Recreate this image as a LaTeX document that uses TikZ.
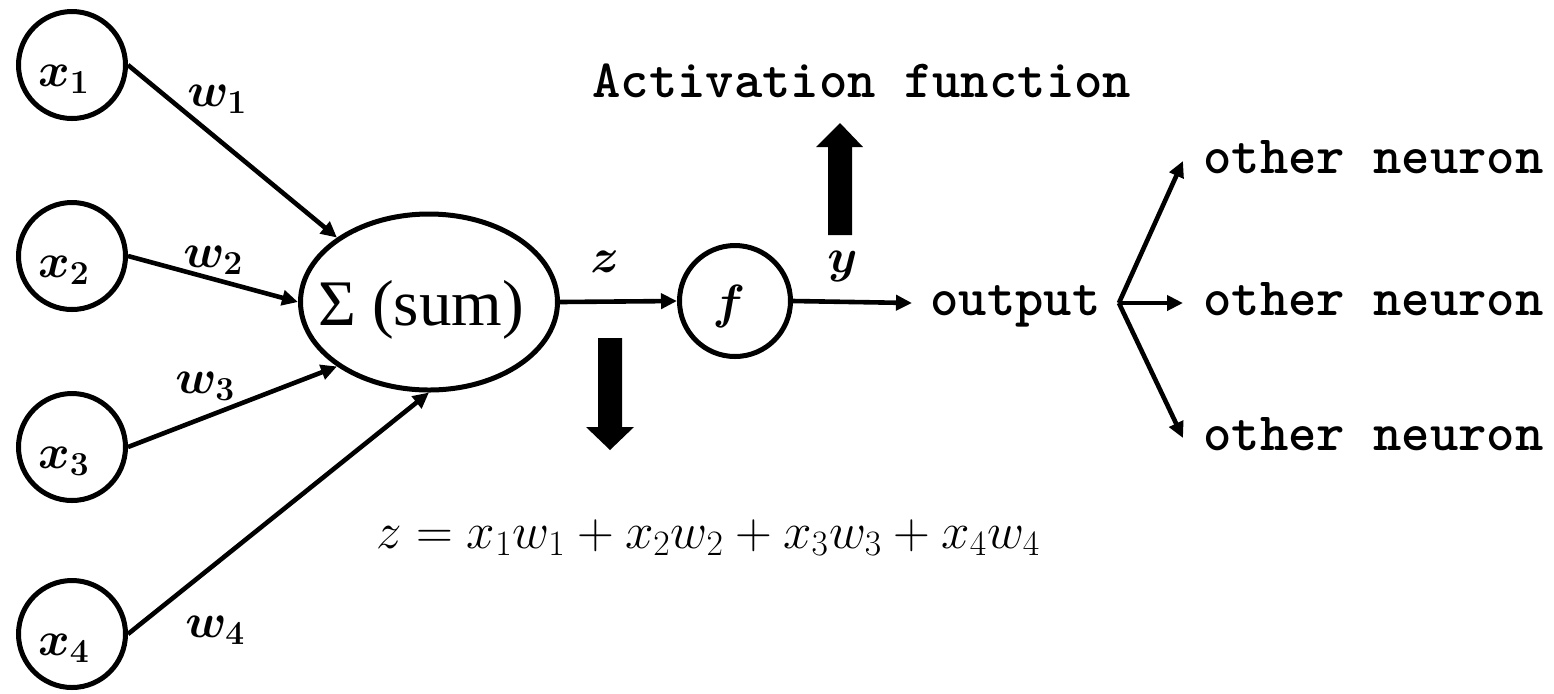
\RequirePackage{fix-cm}
\documentclass[tikz,border=0pt]{standalone}
\usepackage{amsmath,bm}
\usepackage{fontspec}
\newfontfamily\sumfont{Liberation Serif}
\usetikzlibrary{shapes.geometric,arrows.meta}
\tikzset{
  inp/.style={circle, draw, line width=2.5pt, minimum size=53.5pt, inner sep=0pt},
  arr/.style={-{Triangle[length=8pt,width=7.5pt]}, line width=2.3pt},
  mono/.style={font=\ttfamily\bfseries\fontsize{27}{30}\selectfont, inner ysep=0pt, inner xsep=0pt, text height=12pt, text depth=0pt},
  lab/.style={font=\fontsize{24}{28}\selectfont, inner sep=0pt},
}
\begin{document}
\begin{tikzpicture}[x=0.5pt,y=-0.5pt]
\fill[white] (0,0) rectangle (1554,693);
\useasboundingbox (0,0) rectangle (1554,693);

% input neurons
\node[inp] (x1) at (72,65) {};
\node[inp] (x2) at (72,256) {};
\node[inp] (x3) at (72,447) {};
\node[inp] (x4) at (72,634) {};
\node[lab] (tx1) at (64,79) {$\boldsymbol{x_1}$};
\node[lab] (tx2) at (64,270) {$\boldsymbol{x_2}$};
\node[lab] (tx3) at (64,461) {$\boldsymbol{x_3}$};
\node[lab] (tx4) at (64,648) {$\boldsymbol{x_4}$};

% sum and activation
\node[draw, ellipse, line width=2.5pt, minimum width=128.5pt, minimum height=88pt, inner sep=0pt] (sum) at (429,302) {};
\node[font=\sumfont\fontsize{32.5}{38}\selectfont, inner sep=0pt, anchor=base] (sumt) at (421,325) {Σ (sum)};
\node[inp, minimum size=55.5pt] (f) at (735,301) {};
\node[lab] (tf) at (729,306) {$\boldsymbol{f}$};

% weights
\draw[arr] (x1.east) -- (sum.145);
\draw[arr] (x2.east) -- (sum.west);
\draw[arr] (x3.east) -- (sum.215);
\draw[arr] (x4.east) -- (sum.south);
\node[lab, anchor=base west] (w1) at (187,106) {$\boldsymbol{w_1}$};
\node[lab, anchor=base west] (w2) at (183,267) {$\boldsymbol{w_2}$};
\node[lab, anchor=base west] (w3) at (175,393) {$\boldsymbol{w_3}$};
\node[lab, anchor=base west] (w4) at (185,637) {$\boldsymbol{w_4}$};

% z and y
\node[mono, anchor=west, inner xsep=9pt] (out) at (912,303) {output};
\draw[arr] (sum.east) -- (f.west);
\draw[arr] (f.east) -- (out.west);
\node[lab, anchor=base west] (z) at (590,272) {$\boldsymbol{z}$};
\node[lab, anchor=base west] (y) at (827,272) {$\boldsymbol{y}$};

% other neurons
\node[mono, anchor=west, inner xsep=10pt] (o1) at (1183,161) {other neuron};
\node[mono, anchor=west, inner xsep=10pt] (o2) at (1183,303) {other neuron};
\node[mono, anchor=west, inner xsep=10pt] (o3) at (1183,438) {other neuron};
\draw[arr] (out.east) -- (o1.west);
\draw[arr] (out.east) -- (o2.west);
\draw[arr] (out.east) -- (o3.west);

% block arrows
\fill (598,338) -- (622,338) -- (622,427) -- (634,427) -- (610,450) -- (586,427) -- (598,427) -- cycle;
\fill (828,235) -- (852,235) -- (852,147) -- (863,147) -- (840,123) -- (816,147) -- (828,147) -- cycle;

\node[mono, anchor=base west] (act) at (592,97) {Activation function};
\node[font=\fontsize{25.5}{30}\selectfont, inner sep=0pt, anchor=base west] (eq) at (376,548) {$z = x_1w_1 + x_2w_2 + x_3w_3 + x_4w_4$};
\end{tikzpicture}
\end{document}
